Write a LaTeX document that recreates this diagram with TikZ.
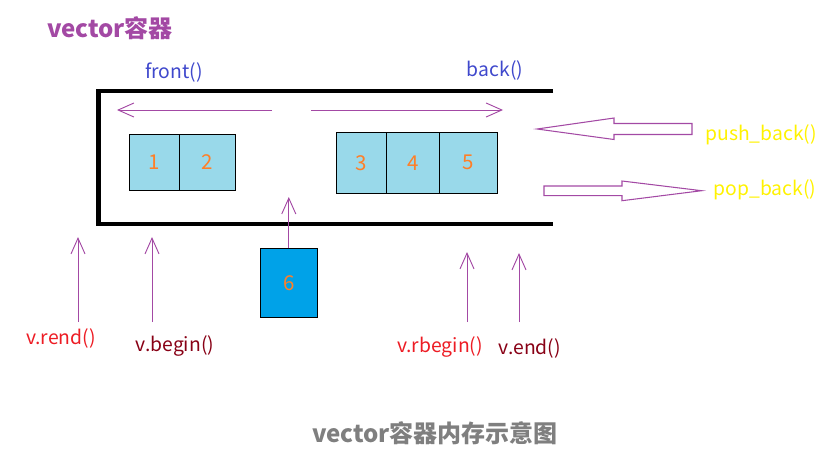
\documentclass[tikz,border=0pt]{standalone}
\usepackage{fontspec}
\setmainfont{Noto Sans CJK SC}
\usetikzlibrary{arrows.meta,positioning}
\definecolor{paintpurple}{HTML}{A349A4}
\definecolor{paintindigo}{HTML}{3F48CC}
\definecolor{paintred}{HTML}{ED1C24}
\definecolor{paintdarkred}{HTML}{880015}
\definecolor{paintyellow}{HTML}{FFF200}
\definecolor{paintorange}{HTML}{FF7F27}
\definecolor{cellblue}{HTML}{99D9EA}
\definecolor{newblue}{HTML}{00A2E8}
\definecolor{titlegray}{HTML}{7F7F7F}

\begin{document}
\begin{tikzpicture}[x=0.03cm,y=-0.03cm,
  lbl/.style={font=\fontsize{16.5}{18}\selectfont,inner sep=0pt},
  heading/.style={font=\fontsize{20.5}{23}\selectfont\bfseries,inner sep=0pt},
  cell/.style={draw,line width=0.8pt,fill=cellblue,inner sep=0pt,outer sep=0pt,
    text=paintorange,font=\fontsize{17.5}{19}\selectfont},
  ptr/.style={draw=paintpurple,line width=0.8pt,-{Straight Barb[length=13.5pt,width=12pt]}},
  blockarrow/.style={draw=paintpurple,line width=0.9pt}]
\useasboundingbox (0,0) rectangle (839,473);
% titles
\node[heading,text=paintpurple] (title) at (110,28) {vector容器};
\node[heading,text=titlegray] (caption) at (435,433) {vector容器内存示意图};
% the container, open on the right
\draw[line width=4.2pt] (553,91) -- (98.5,91) -- (98.5,224) -- (553,224);
% front and back
\node[lbl,text=paintindigo] (front) at (174,72) {front()};
\node[lbl,text=paintindigo] (back) at (495,70) {back()};
\coordinate (midL) at (272,110);  \coordinate (frontend) at (117,110);
\coordinate (midR) at (311,110);  \coordinate (backend) at (503,110);
\draw[ptr] (midL) -- (frontend);
\draw[ptr] (midR) -- (backend);
% the stored elements
\node[cell,minimum width=1.48cm,minimum height=1.68cm] (c1) at (154.6,162.3) {1};
\node[cell,minimum width=1.68cm,minimum height=1.68cm,right=0pt of c1] (c2) {2};
\node[cell,minimum width=1.5cm,minimum height=1.83cm] (c3) at (361.3,162.8) {3};
\node[cell,minimum width=1.59cm,minimum height=1.83cm,right=0pt of c3] (c4) {4};
\node[cell,minimum width=1.74cm,minimum height=1.83cm,right=0pt of c4] (c5) {5};
% the element being inserted
\node[cell,fill=newblue,minimum width=1.71cm,minimum height=2.07cm] (c6) at (288.8,282.8) {6};
\coordinate (gap) at (288.8,197);
\draw[ptr] (c6.north) -- (gap);
% push_back / pop_back
\draw[blockarrow] (537,129) -- (614,118) -- (614,123.5) -- (692,123.5)
  -- (692,134.5) -- (614,134.5) -- (614,139.5) -- cycle;
\draw[blockarrow] (701.7,190.7) -- (622,181) -- (622,186) -- (544,186)
  -- (544,195.7) -- (622,195.7) -- (622,200.7) -- cycle;
\node[lbl,text=paintyellow] (push) at (761,135) {push\_back()};
\node[lbl,text=paintyellow] (pop) at (765,190) {pop\_back()};
% iterators
\node[lbl,text=paintred] (rend) at (61,338) {v.rend()};
\node[lbl,text=paintdarkred] (begin) at (175,346) {v.begin()};
\node[lbl,text=paintred] (rbegin) at (440,347) {v.rbegin()};
\node[lbl,text=paintdarkred] (end) at (530,348) {v.end()};
\coordinate (rendfoot) at (78,322);    \coordinate (rendtip) at (78,237);
\coordinate (beginfoot) at (152,322);  \coordinate (begintip) at (152,237);
\coordinate (rbeginfoot) at (467,322); \coordinate (rbegintip) at (467,252);
\coordinate (endfoot) at (519,322);    \coordinate (endtip) at (519,253);
\draw[ptr] (rendfoot) -- (rendtip);
\draw[ptr] (beginfoot) -- (begintip);
\draw[ptr] (rbeginfoot) -- (rbegintip);
\draw[ptr] (endfoot) -- (endtip);
\end{tikzpicture}
\end{document}
